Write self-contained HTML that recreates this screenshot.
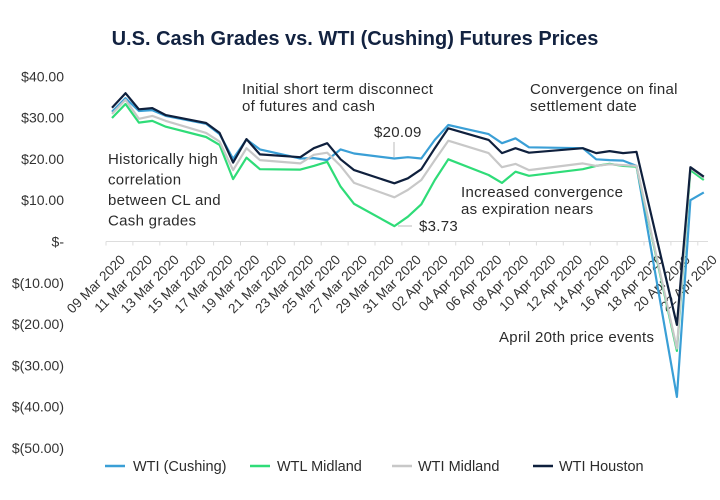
<!DOCTYPE html>
<html><head><meta charset="utf-8">
<style>
body{margin:0;background:#fff;}
svg{display:block;font-family:"Liberation Sans",sans-serif;}
</style></head>
<body>
<svg id="chart" width="720" height="500" viewBox="0 0 720 500" xmlns="http://www.w3.org/2000/svg">
<rect width="720" height="500" fill="#fff"/>
<text x="355" y="45" text-anchor="middle" font-size="20" font-weight="bold" fill="#122240">U.S. Cash Grades vs. WTI (Cushing) Futures Prices</text>
<g id="yaxis"></g>
<g id="xaxis"></g>
<g id="series"></g>
<g font-size="15" letter-spacing="0.3" fill="#2b2b2b">
<text x="108" y="164"><tspan x="108">Historically high</tspan><tspan x="108" dy="20.5">correlation</tspan><tspan x="108" dy="20.5">between CL and</tspan><tspan x="108" dy="20.5">Cash grades</tspan></text>
<text x="242" y="94"><tspan x="242">Initial short term disconnect</tspan><tspan x="242" dy="17">of futures and cash</tspan></text>
<text x="530" y="94"><tspan x="530">Convergence on final</tspan><tspan x="530" dy="17">settlement date</tspan></text>
<text x="374" y="137">$20.09</text>
<line x1="394" y1="142" x2="394" y2="157" stroke="#bbb" stroke-width="1"/>
<text x="419" y="231">$3.73</text>
<line x1="398" y1="226" x2="412" y2="226" stroke="#bbb" stroke-width="1"/>
<text x="461" y="197"><tspan x="461">Increased convergence</tspan><tspan x="461" dy="17">as expiration nears</tspan></text>
<text x="499" y="342">April 20th price events</text>
</g>
<g font-size="14.5" fill="#2b2b2b">
<g><line x1="105" y1="466" x2="125" y2="466" stroke="#3a9fd6" stroke-width="2.5"/><text x="133" y="471">WTI (Cushing)</text></g>
<g><line x1="250" y1="466" x2="270" y2="466" stroke="#2fdc78" stroke-width="2.5"/><text x="277" y="471">WTL Midland</text></g>
<g><line x1="392" y1="466" x2="412" y2="466" stroke="#c8c8c8" stroke-width="2.5"/><text x="418" y="471">WTI Midland</text></g>
<g><line x1="533" y1="466" x2="553" y2="466" stroke="#0f203d" stroke-width="2.5"/><text x="559" y="471">WTI Houston</text></g>
</g>
</svg>
<script>
// day offsets from 09 Mar 2020 (trading days)
const dayIdx = [0,1,2,3,4,7,8,9,10,11,14,15,16,17,18,21,22,23,24,25,28,29,30,31,35,36,37,38,39,42,43,44];
const wtiCushing = [31.4,34.7,31.6,31.8,30.4,28.5,26.0,20.0,24.7,22.3,20.1,20.2,19.7,22.3,21.3,20.09,20.4,20.1,24.6,28.2,26.0,23.8,25.0,22.8,22.6,19.9,19.7,19.6,18.3,-37.63,10.0,11.9];
const wtlMidland = [29.9,33.3,28.8,29.2,27.8,25.3,23.4,15.1,20.3,17.5,17.4,18.3,19.3,13.3,9.1,3.73,6.0,9.0,14.9,19.9,16.1,14.2,16.9,15.9,17.5,18.3,18.8,18.3,18.1,-26.5,17.3,14.9];
const wtiMidland = [30.9,34.3,29.7,30.4,29.2,26.3,24.2,17.3,22.6,19.7,18.9,21.0,21.5,18.3,14.2,10.7,12.5,14.9,19.7,24.4,21.4,18.0,18.8,17.3,18.9,18.3,18.7,18.5,18.3,-25.9,17.8,15.4];
const wtiHouston = [32.4,35.9,32.0,32.3,30.6,28.7,26.3,19.1,24.8,21.1,20.4,22.6,23.8,19.9,17.3,14.1,15.3,17.5,22.6,27.4,24.6,21.4,22.6,21.5,22.6,21.4,21.9,21.4,21.7,-20.2,18.0,15.7];
const yTicks = [40,30,20,10,0,-10,-20,-30,-40,-50];
const yTickLabels = ["$40.00","$30.00","$20.00","$10.00","$-","$(10.00)","$(20.00)","$(30.00)","$(40.00)","$(50.00)"];
const xTickDays = [0,2,4,6,8,10,12,14,16,18,20,22,24,26,28,30,32,34,36,38,40,42,44];
const xTickLabels = ["09 Mar 2020","11 Mar 2020","13 Mar 2020","15 Mar 2020","17 Mar 2020","19 Mar 2020","21 Mar 2020","23 Mar 2020","25 Mar 2020","27 Mar 2020","29 Mar 2020","31 Mar 2020","02 Apr 2020","04 Apr 2020","06 Apr 2020","08 Apr 2020","10 Apr 2020","12 Apr 2020","14 Apr 2020","16 Apr 2020","18 Apr 2020","20 Apr 2020","22 Apr 2020"];

const NS="http://www.w3.org/2000/svg";
const xScale = d => 112 + d*13.45;
const yScale = v => 241.5 - v*4.13;
function mk(tag, parent){const e=document.createElementNS(NS,tag);parent.appendChild(e);return e;}

const yg=document.getElementById('yaxis');
yTicks.forEach((v,i)=>{
  const t=mk('text',yg);
  
  
  t.setAttribute('x',64);t.setAttribute('y',yScale(v)+5);
  t.setAttribute('text-anchor','end');t.setAttribute('font-size','14');t.setAttribute('fill','#333');
  t.textContent=yTickLabels[i];
});
const xg=document.getElementById('xaxis');
const ax=mk('line',xg);


ax.setAttribute('x1',106);ax.setAttribute('x2',708);ax.setAttribute('y1',yScale(0));ax.setAttribute('y2',yScale(0));
ax.setAttribute('stroke','#ddd');ax.setAttribute('stroke-width','1');
xTickDays.forEach((d,i)=>{
  const tk=mk('line',xg);
  
  
  tk.setAttribute('x1',xScale(d)-6);tk.setAttribute('x2',xScale(d)-6);tk.setAttribute('y1',yScale(0));tk.setAttribute('y2',yScale(0)+4);
  tk.setAttribute('stroke','#ddd');
  const t=mk('text',xg);
  
  
  const x=xScale(d)+14, y=yScale(0)+19;
  t.setAttribute('x',x);t.setAttribute('y',y);
  t.setAttribute('text-anchor','end');t.setAttribute('font-size','13.5');t.setAttribute('fill','#333');
  t.setAttribute('transform','rotate(-45 '+x+' '+y+')');
  t.textContent=xTickLabels[i];
});
const sg=document.getElementById('series');
function line(vals,color,name){
  const p=mk('path',sg);
  
  
  p.setAttribute('d',vals.map((v,i)=>(i?'L':'M')+xScale(dayIdx[i]).toFixed(1)+','+yScale(v).toFixed(1)).join(''));
  p.setAttribute('fill','none');p.setAttribute('stroke',color);p.setAttribute('stroke-width','2.2');p.setAttribute('stroke-linejoin','round');
}
line(wtiCushing,'#3a9fd6','line-wti-cushing');
line(wtlMidland,'#2fdc78','line-wtl-midland');
line(wtiMidland,'#c8c8c8','line-wti-midland');
line(wtiHouston,'#0f203d','line-wti-houston');
</script>
</body></html>
